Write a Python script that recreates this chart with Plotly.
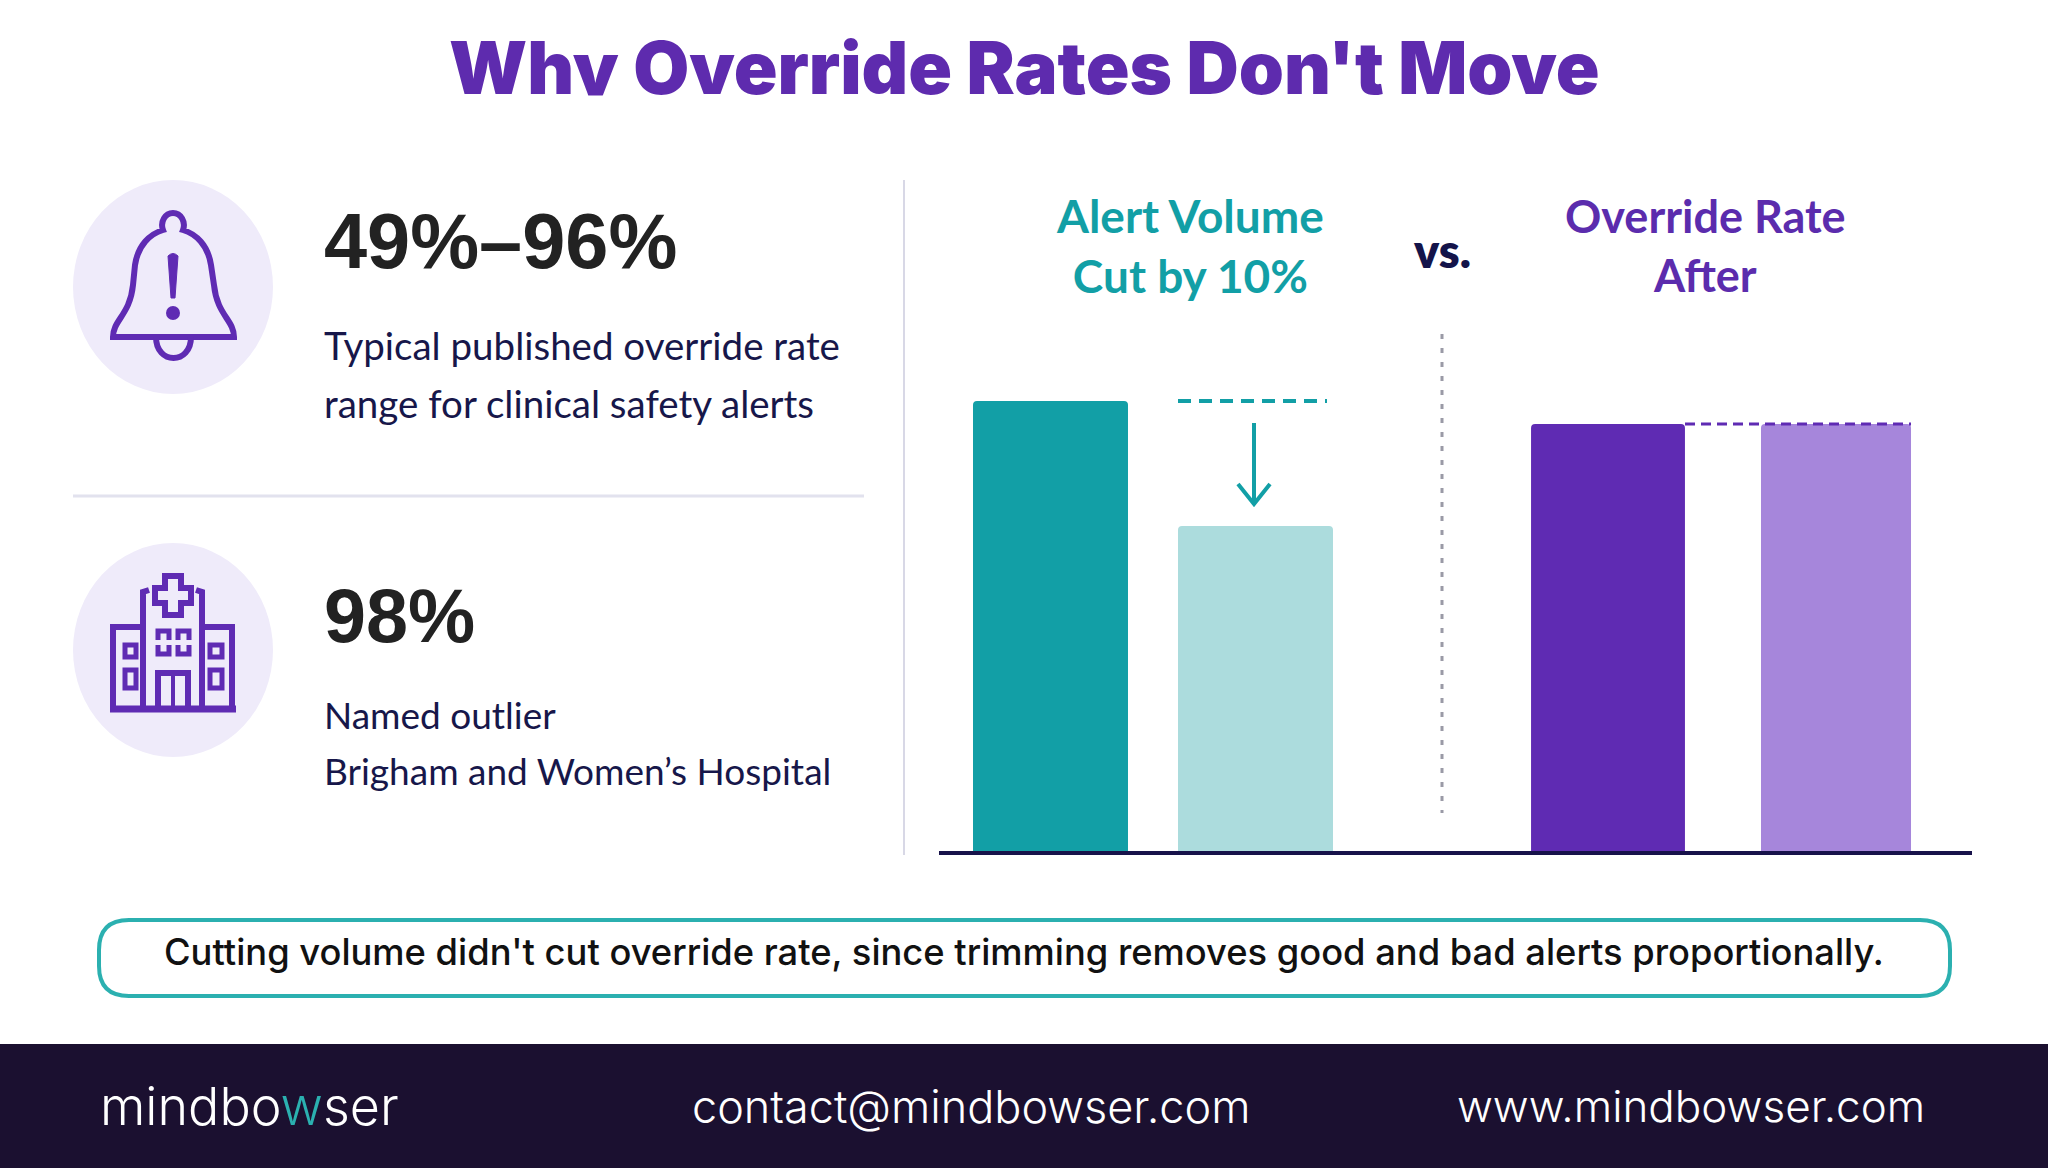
import plotly.graph_objects as go

# bars (first alert volume bar = 100)
volume_labels = ["Before", "After cut"]
volume_values = [100, 72.3]
rate_labels = ["Before", "After"]
rate_values = [94.9, 94.9]

title_text = "Why Override Rates Don't Move"
stat_values = ["49%–96%", "98%"]
stat_lines = [
    "Typical published override rate",
    "range for clinical safety alerts",
    "Named outlier",
    "Brigham and Women’s Hospital",
]
takeaway = "Cutting volume didn't cut override rate, since trimming removes good and bad alerts proportionally."

TEAL = "#129FA6"
TEAL_LIGHT = "#ACDCDD"
PURPLE = "#5F2BB3"
PURPLE_LIGHT = "#A686DB"
NAVY = "#17174A"
DARK = "#1B1030"
W, H = 2048, 1168

fig = go.Figure()
fig.add_bar(x=volume_labels, y=volume_values, xaxis="x", yaxis="y", width=0.756,
            marker=dict(color=[TEAL, TEAL_LIGHT], line_width=0))
fig.add_bar(x=rate_labels, y=rate_values, xaxis="x2", yaxis="y", width=[0.675, 0.658],
            marker=dict(color=[PURPLE, PURPLE_LIGHT], line_width=0))


def text(x, y, s, size, color, family="Lato", weight=400, anchor="left"):
    fig.add_annotation(xref="x3", yref="y3", x=x, y=y, text=s, showarrow=False, xanchor=anchor,
                       yanchor="middle", align=anchor,
                       font=dict(family=family, size=size, color=color, weight=weight))


def line(x0, y0, x1, y1, color, width, dash="solid"):
    fig.add_shape(type="line", xref="x3", yref="y3", x0=x0, y0=y0, x1=x1, y1=y1,
                  line=dict(color=color, width=width, dash=dash))


def path(d, color=PURPLE, width=6, fill="rgba(0,0,0,0)"):
    fig.add_shape(type="path", xref="x3", yref="y3", path=d, fillcolor=fill,
                  line=dict(color=color, width=width))


# title
text(W / 2, 67, title_text, 72.3, "#5E2BAE", "Inter", 900, "center")
# the source crops the title just under the baseline
fig.add_annotation(xref="x3", yref="y3", x=W / 2, y=117, text=" ", showarrow=False, width=1300, height=40,
                   bgcolor="white", xanchor="center", yanchor="middle")

# left panel
for cy in [287, 650]:
    fig.add_shape(type="circle", xref="x3", yref="y3", x0=73, x1=273, y0=cy - 107, y1=cy + 107,
                  fillcolor="#EFEBFA", line_width=0)

# bell icon
path("M113 337 L234 337 C234 320 217 315 214 285 L211 265 C208 245 196 234 183 230 "
     "C186 222 181 213 173 213 C165 213 160 222 163 230 C150 234 138 245 135 265 "
     "L133 285 C130 315 113 320 113 337 Z")
path("M156 337 C156 365 191 365 191 337")
path("M168 256 Q173 251 178 256 L175 298 L171 298 Z", width=1, fill=PURPLE)
fig.add_shape(type="circle", xref="x3", yref="y3", x0=166, x1=180, y0=306, y1=320,
              fillcolor=PURPLE, line_width=0)

# hospital icon
line(110, 709, 236, 709, PURPLE, 7)
path("M113 709 L113 627 L143 627")
path("M232 709 L232 627 L202 627")
path("M143 709 L143 592 L149 590")
path("M202 709 L202 592 L196 590")
path("M165 576 L181 576 L181 588 L191 588 L191 603 L181 603 L181 615 L165 615 "
     "L165 603 L155 603 L155 588 L165 588 Z")
for x0, x1 in [(158, 169), (178, 189)]:
    path(f"M{x0} 640 L{x0} 631 L{x1} 631 L{x1} 640", width=5)
    path(f"M{x0} 645 L{x0} 654 L{x1} 654 L{x1} 645", width=5)
for x0, x1 in [(125, 136), (210, 222)]:
    path(f"M{x0} 645 L{x1} 645 L{x1} 657 L{x0} 657 Z", width=5)
    path(f"M{x0} 670 L{x1} 670 L{x1} 688 L{x0} 688 Z", width=5)
path("M158 709 L158 673 L188 673 L188 709")
line(173, 673, 173, 709, PURPLE, 4)

text(322, 241, stat_values[0], 77.5, "#222222", "Liberation Sans", 700)
text(322, 616, stat_values[1], 75.5, "#222222", "Liberation Sans", 700)
text(322, 345, stat_lines[0], 38.5, NAVY)
text(322, 403, stat_lines[1], 38.5, NAVY)
text(322, 714, stat_lines[2], 37, NAVY)
text(322, 770, stat_lines[3], 37, NAVY)
line(73, 496, 864, 496, "#E2E2EE", 3)
line(904, 180, 904, 855, "#D8D8E6", 2)

# chart heads
text(1190, 245, "Alert Volume<br>Cut by 10%", 46, TEAL, "Lato", 700, "center")
text(1705, 245, "Override Rate<br>After", 45, "#5B2CAD", "Lato", 700, "center")
text(1442, 250, "vs.", 47, "#14144A", "Lato", 800, "center")

# dashed reference lines sit on the data values
fig.add_shape(type="line", xref="x3", yref="y", x0=1178, x1=1327, y0=volume_values[0], y1=volume_values[0],
              line=dict(color=TEAL, width=4, dash="13px,8px"))
fig.add_shape(type="line", xref="x3", yref="y", x0=1685, x1=1911, y0=rate_values[0], y1=rate_values[0],
              line=dict(color=PURPLE, width=3, dash="10px,6px"))
line(1254, 423, 1254, 504, TEAL, 4)
path("M1238 484 L1254 504 L1270 484", color=TEAL, width=4)
line(1442, 334, 1442, 813, "#9A9AA6", 3, "5px,9px")
line(939, 853, 1972, 853, "#17124A", 4)

# takeaway pill
path("M129 920 L1920 920 Q1950 920 1950 950 L1950 966 Q1950 996 1920 996 L129 996 Q99 996 99 966 "
     "L99 950 Q99 920 129 920 Z", color="#2BB0B0", width=4, fill="white")
text(1024, 952, takeaway, 36.3, "#111111", "Inter", 500, "center")

# footer band
fig.add_shape(type="rect", xref="x3", yref="y3", x0=0, x1=W, y0=1044, y1=H, fillcolor=DARK, line_width=0)
text(98, 1106, "mindbo<span style='color:#2BB0B0'>w</span>ser", 52, "white", "Inter", 300)
text(690, 1106, "contact@mindbowser.com", 45, "white", "Inter", 300)
text(1455, 1106, "www.mindbowser.com", 44, "white", "Inter", 300)

fig.update_layout(
    width=W, height=H, margin=dict(l=0, r=0, t=0, b=0), showlegend=False,
    paper_bgcolor="white", plot_bgcolor="rgba(0,0,0,0)", barcornerradius=4,
    xaxis=dict(domain=[948 / W, 1358 / W], visible=False, range=[-0.5, 1.5], type="category"),
    xaxis2=dict(domain=[1494 / W, 1950 / W], visible=False, range=[-0.5, 1.5], type="category", anchor="y"),
    # range runs past 100 so the dashed line on the top value isn't clipped
    yaxis=dict(domain=[1 - 852 / H, 1 - (852 - 451 * 1.05) / H], visible=False, range=[0, 105]),
    xaxis3=dict(domain=[0, 1], visible=False, range=[0, W], anchor="y3"),
    yaxis3=dict(domain=[0, 1], visible=False, range=[H, 0], anchor="x3"),
)

# the default page margin would push the figure off the window
fig.write_html("out.html", config=dict(displayModeBar=False),
               post_script="document.body.style.margin='0';document.body.style.overflow='hidden';")
